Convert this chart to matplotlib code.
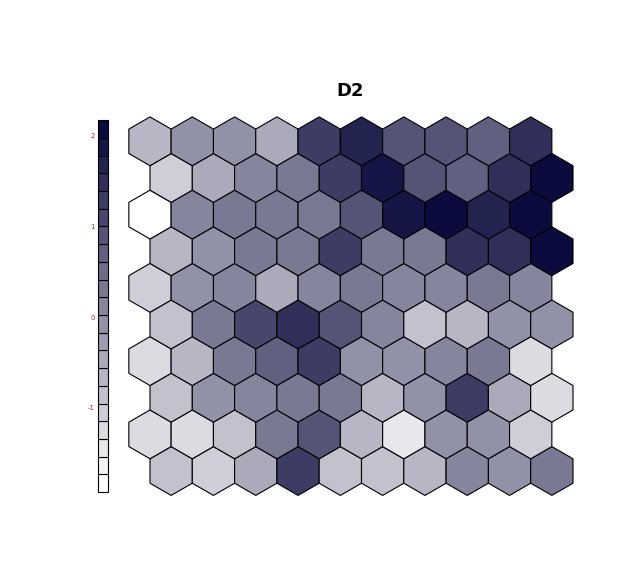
import numpy as np
import matplotlib
matplotlib.use('Agg')
from matplotlib import pyplot as plt
from matplotlib.patches import RegularPolygon, Rectangle
from matplotlib.colors import LinearSegmentedColormap

# codebook values of property D2, rows listed from top of map to bottom
row10 = [-0.61, -0.16, -0.16, -0.41, 1.31, 1.72, 0.86, 0.86, 0.62, 1.52]
row9 = [-1.06, -0.41, 0.04, 0.41, 1.31, 1.97, 0.86, 0.62, 1.52, 2.17]
row8 = [-1.92, 0.04, 0.25, 0.25, 0.25, 0.86, 1.97, 2.17, 1.72, 2.17]
row7 = [-0.61, -0.16, 0.41, 0.25, 1.31, 0.25, 0.41, 1.52, 1.52, 2.17]
row6 = [-1.06, -0.16, 0.04, -0.41, 0.04, 0.41, 0.04, 0.04, 0.41, 0.04]
row5 = [-0.82, 0.41, 1.11, 1.52, 0.86, 0.04, -0.82, -0.61, -0.16, -0.16]
row4 = [-1.27, -0.61, 0.25, 0.66, 1.31, -0.16, -0.16, 0.04, 0.41, -1.27]
row3 = [-0.82, -0.16, 0.04, 0.41, 0.25, -0.61, -0.16, 1.31, -0.41, -1.27]
row2 = [-1.27, -1.27, -0.82, 0.25, 0.86, -0.61, -1.47, -0.16, -0.16, -1.06]
row1 = [-0.82, -1.06, -0.41, 1.31, -0.82, -0.82, -0.61, 0.04, -0.16, 0.25]

rows = [row1, row2, row3, row4, row5, row6, row7, row8, row9, row10]
key_ticks = [2, 1, 0, -1]
zlim = (-1.92, 2.17)
ncolors = 21
title = 'D2'

cmap = LinearSegmentedColormap.from_list('bluegray', ['#FFFFFF', '#0B0B3D'])
pal = [cmap(i / (ncolors - 1)) for i in range(ncolors)]

def colour(v):
    k = int((v - zlim[0]) / (zlim[1] - zlim[0]) * ncolors)
    return pal[min(max(k, 0), ncolors - 1)]

fig = plt.figure(figsize=(6.26, 5.75), dpi=100)
ax = fig.add_axes([0, 0, 1, 1])
ax.set_xlim(-150 / 42.3, 476 / 42.3)
ax.set_ylim(-104 / 42.3, 471 / 42.3)
ax.axis('off')

h = np.sqrt(3) / 2
for r, vals in enumerate(rows):
    for c, v in enumerate(vals):
        x = c + (0.5 if r % 2 == 0 else 0.0)
        y = r * h
        ax.add_patch(RegularPolygon((x, y), 6, radius=1 / np.sqrt(3), orientation=0,
                                    facecolor=colour(v), edgecolor='black', lw=0.8))

# heat key
ymin, ymax = -0.5, (len(rows) - 1) * h + 0.5
xl, xr = -1.229, -0.993
edges = np.linspace(ymin, ymax, ncolors + 1)
for i in range(ncolors):
    ax.add_patch(Rectangle((xl, edges[i]), xr - xl, edges[i + 1] - edges[i],
                           facecolor=pal[i], edgecolor='black', lw=0.8))
for t in key_ticks:
    yt = ymin + (t - zlim[0]) / (zlim[1] - zlim[0]) * (ymax - ymin)
    ax.text(xl - 0.07, yt, str(t), ha='right', va='center', fontsize=5, color='#A03030')

ax.text(200 / 42.3, 380 / 42.3, title, ha='center', va='center', fontsize=13, fontweight='bold')

fig.savefig('out.png', dpi=100)
